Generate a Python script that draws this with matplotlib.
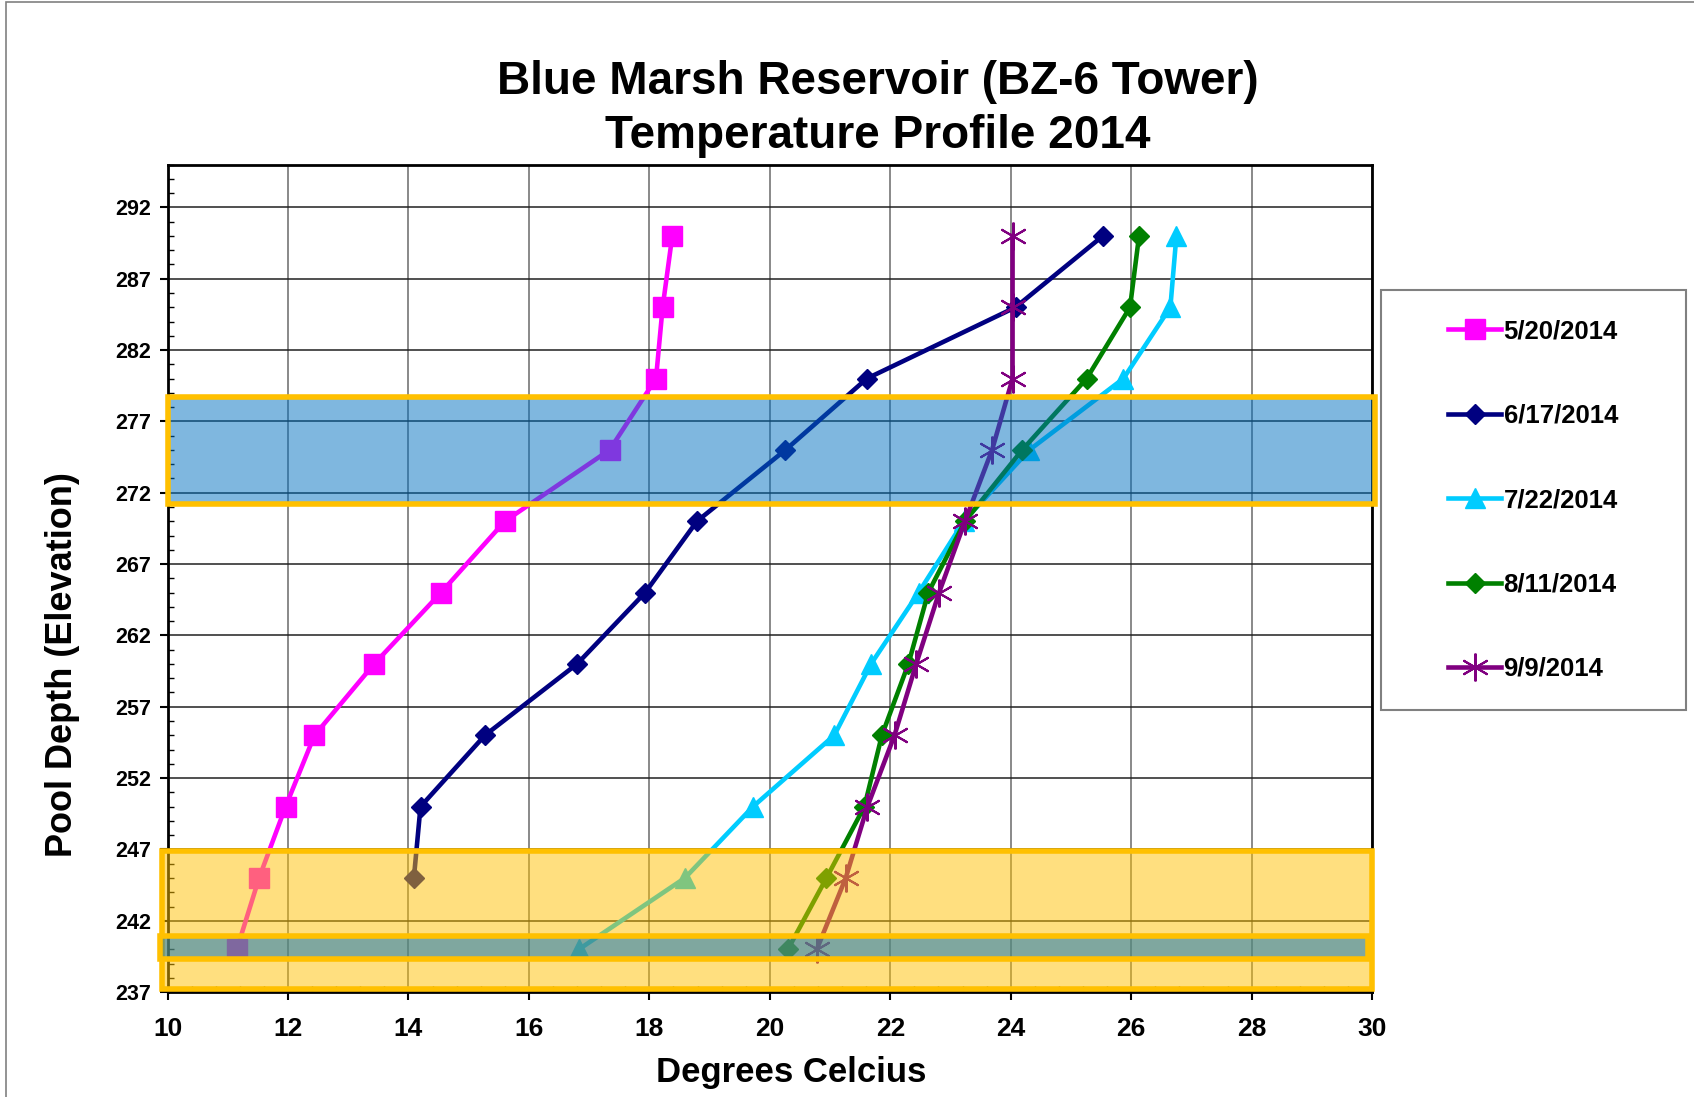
import matplotlib
matplotlib.use('Agg')
import matplotlib.pyplot as plt
import matplotlib.transforms as mtransforms
from matplotlib.patches import Rectangle
from matplotlib.ticker import MultipleLocator

plt.rcParams['font.family'] = ['Liberation Sans', 'DejaVu Sans']
plt.rcParams['font.weight'] = 'bold'

# elevations (ft) of the profile points
elev = [290, 285, 280, 275, 270, 265, 260, 255, 250, 245, 240]

# temperatures, deg C
may20 = [18.38, 18.22, 18.11, 17.34, 15.60, 14.54, 13.43, 12.44, 11.96, 11.52, 11.15]
jun17 = [25.53, 24.08, 21.61, 20.26, 18.79, 17.93, 16.80, 15.27, 14.20, 14.09]
jul22 = [26.75, 26.65, 25.87, 24.31, 23.22, 22.47, 21.68, 21.07, 19.72, 18.59, 16.83]
aug11 = [26.13, 25.98, 25.26, 24.19, 23.24, 22.63, 22.30, 21.86, 21.57, 20.94, 20.30]
sep09 = [24.03, 24.03, 24.03, 23.69, 23.24, 22.81, 22.43, 22.07, 21.62, 21.26, 20.78]

labels = ['5/20/2014', '6/17/2014', '7/22/2014', '8/11/2014', '9/9/2014']

# highlighted elevation bands (bottom, top)
blue_band = (271.2, 278.7)
yellow_band = (237.2, 246.9)
intake_band = (239.3, 240.9)

fig = plt.figure(figsize=(16.94, 10.97), dpi=100)
ax = fig.add_axes([0.0989, 0.0956, 0.7111, 0.7544])

ax.plot(may20, elev, color='#FF00FF', lw=3.3, marker='s', ms=14, label=labels[0])
ax.plot(jun17, elev[:len(jun17)], color='#000080', lw=3.3, marker='D', ms=10, label=labels[1])
ax.plot(jul22, elev, color='#00CCFF', lw=3.3, marker='^', ms=14, label=labels[2])
ax.plot(aug11, elev, color='#008000', lw=3.3, marker='D', ms=10, label=labels[3])
ax.plot(sep09, elev, color='#800080', lw=3.3, marker=(6, 2, 0), ms=20, mew=1.5, label=labels[4])

ax.set_xlim(10, 30)
ax.set_ylim(237, 295)
ax.xaxis.set_major_locator(MultipleLocator(2))
ax.xaxis.set_minor_locator(MultipleLocator(0.4))
ax.set_yticks(range(237, 293, 5))
ax.yaxis.set_minor_locator(MultipleLocator(1))

ax.grid(True, axis='y', which='major', color='#202020', lw=1.1)
ax.grid(True, axis='x', which='major', color='#6a6a6a', lw=1.1)
ax.set_axisbelow(True)

for s in ax.spines.values():
    s.set_linewidth(2)
ax.tick_params(axis='x', which='major', direction='out', length=6, width=1.5, pad=12, labelsize=19)
ax.tick_params(axis='x', which='minor', direction='in', length=4, width=1)
ax.tick_params(axis='y', which='major', direction='out', length=6, width=1.5, pad=6, labelsize=15.5)
ax.tick_params(axis='y', which='minor', direction='in', length=4, width=1)
for t in ax.get_xticklabels() + ax.get_yticklabels():
    t.set_fontweight('bold')

# shaded bands, drawn on top of the lines like the original shapes
trans = mtransforms.blended_transform_factory(ax.transAxes, ax.transData)
ax.add_patch(Rectangle((0.0, blue_band[0]), 1.002, blue_band[1] - blue_band[0], transform=trans,
                       facecolor=(0, 112/255, 192/255, 0.5), edgecolor='#FFC000', lw=4,
                       clip_on=False, zorder=5))
ax.add_patch(Rectangle((-0.0045, yellow_band[0]), 1.0045, yellow_band[1] - yellow_band[0], transform=trans,
                       facecolor=(1, 192/255, 0, 0.5), edgecolor='#FFC000', lw=4,
                       clip_on=False, zorder=5))
ax.add_patch(Rectangle((-0.0063, intake_band[0]), 1.0027, intake_band[1] - intake_band[0], transform=trans,
                       facecolor=(0, 112/255, 192/255, 0.5), edgecolor='#FFC000', lw=4,
                       clip_on=False, zorder=6))

# titles and axis labels
fig.text(0.518, 0.925, 'Blue Marsh Reservoir (BZ-6 Tower)', ha='center', va='center', fontsize=33, fontweight='bold')
fig.text(0.518, 0.876, 'Temperature Profile 2014', ha='center', va='center', fontsize=33, fontweight='bold')
fig.text(0.467, 0.022, 'Degrees Celcius', ha='center', va='center', fontsize=25, fontweight='bold')
fig.text(0.037, 0.394, 'Pool Depth (Elevation)', ha='center', va='center', rotation=90, fontsize=26, fontweight='bold')

# legend box
fig.patches.append(Rectangle((0.815, 0.353), 0.18, 0.383, transform=fig.transFigure,
                             facecolor='none', edgecolor='#808080', lw=1.5))
leg = ax.legend(loc='center left', bbox_to_anchor=(0.855, 0.544), bbox_transform=fig.transFigure,
                frameon=False, fontsize=18.5, handlelength=2.05, handletextpad=0.1,
                labelspacing=2.35, borderpad=0, borderaxespad=0)
for t in leg.get_texts():
    t.set_fontweight('bold')
leg.set_zorder(10)

# outer chart border
fig.patches.append(Rectangle((0.0038, -0.1), 1.1, 1.0978, transform=fig.transFigure,
                             facecolor='none', edgecolor='#808080', lw=1.2))

fig.savefig('out.png', dpi=100)
